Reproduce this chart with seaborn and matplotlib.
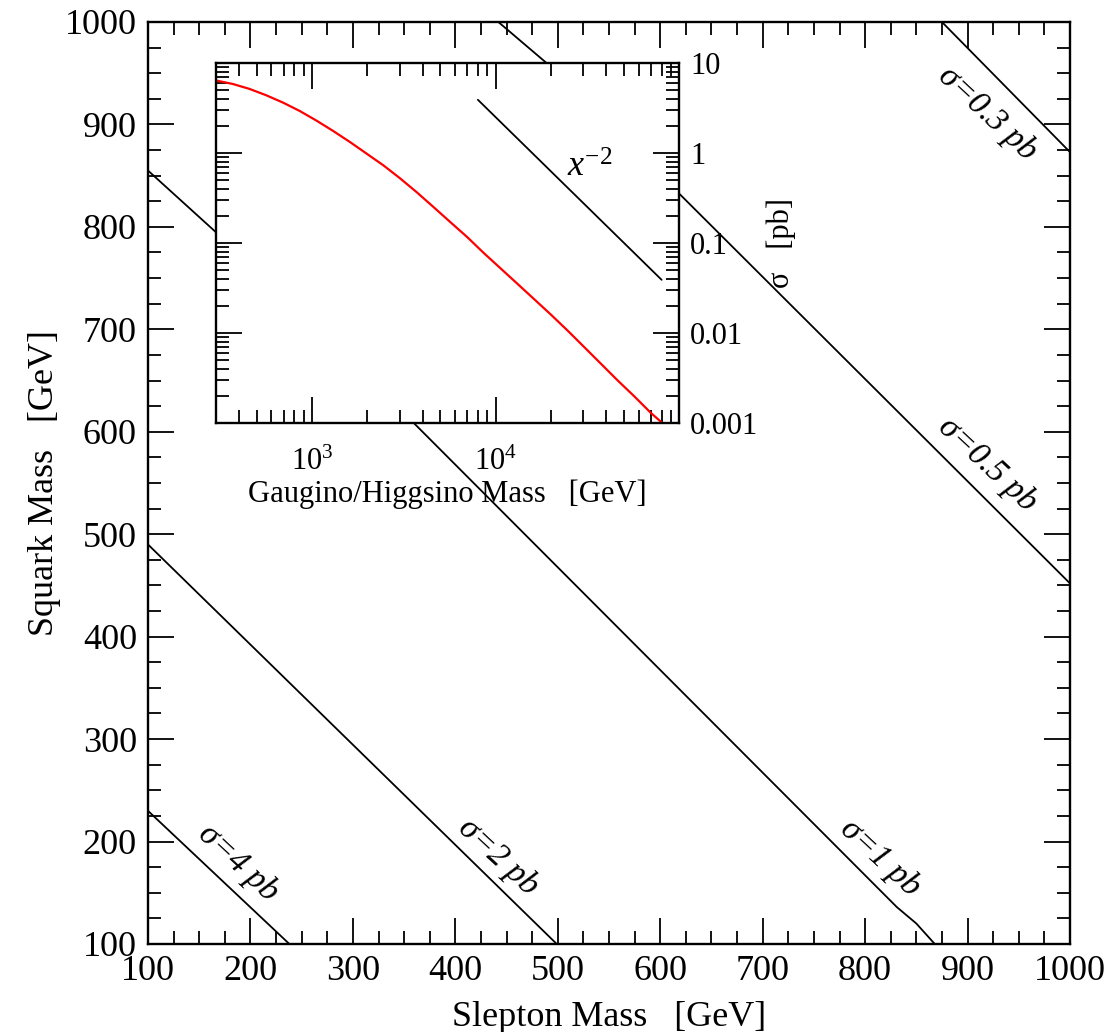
"""Squark vs slepton mass cross-section contours with gaugino/higgsino inset."""

import numpy as np
import pandas as pd
import matplotlib
matplotlib.use("Agg")
import matplotlib.pyplot as plt
import matplotlib.ticker as mticker
import seaborn as sns

# Contour lines (slepton mass, squark mass) in GeV
sigma_labels = ["\u03c3=4 pb", "\u03c3=2 pb", "\u03c3=1 pb", "\u03c3=0.5 pb", "\u03c3=0.3 pb"]
line_4pb_x = [100, 238]
line_4pb_y = [230, 100]
line_2pb_x = [100, 499]
line_2pb_y = [490, 100]
line_1pb_x = [100, 165, 359, 831, 850, 868]
line_1pb_y = [855, 796, 609, 136, 120, 100]
line_05pb_x = [442, 489, 618, 1000]
line_05pb_y = [1000, 960, 833, 452]
line_03pb_x = [875, 1000]
line_03pb_y = [1000, 873]

# Label centres for each contour
label_x = [188, 442, 815, 919, 919]
label_y = [179, 185, 184, 568, 911]

# Inset: cross section (pb) vs gaugino/higgsino mass (GeV)
inset_mass = [297, 370, 457, 563, 695, 857, 1057, 1303, 1607, 1982, 2444, 3015, 3718,
              4584, 5655, 6973, 8602, 10610, 13090, 16140, 19910, 24550, 30270, 37330,
              46040, 56780, 70040, 79430]
inset_sigma = [6.42, 5.85, 5.15, 4.38, 3.63, 2.93, 2.29, 1.757, 1.326, 0.984, 0.730,
               0.523, 0.366, 0.251, 0.171, 0.117, 0.0775, 0.0524, 0.0354, 0.0239,
               0.0161, 0.0107, 0.0070, 0.00457, 0.00298, 0.00198, 0.00129, 0.00103]
slope_x = [8000, 80000]
slope_y = [3.9, 0.039]

main_ticks = [100, 200, 300, 400, 500, 600, 700, 800, 900, 1000]
inset_xticks = [1e3, 1e4]
inset_xticklabels = [r"$\mathregular{10^{3}}$", r"$\mathregular{10^{4}}$"]
inset_yticks = [10, 1, 0.1, 0.01, 0.001]
inset_yticklabels = ["10", "1", "0.1", "0.01", "0.001"]

sns.set_style("ticks")
plt.rcParams["font.family"] = ["Liberation Serif", "DejaVu Serif"]
plt.rcParams["mathtext.fontset"] = "custom"
plt.rcParams["mathtext.rm"] = "Liberation Serif"
plt.rcParams["mathtext.it"] = "Liberation Serif:italic"
plt.rcParams["text.color"] = "black"
plt.rcParams["axes.labelcolor"] = "black"

fig = plt.figure(figsize=(11.1, 10.32), dpi=100)
ax = fig.add_axes([148 / 1110, 88 / 1032, 922 / 1110, 922 / 1032])

lines = [(line_4pb_x, line_4pb_y), (line_2pb_x, line_2pb_y), (line_1pb_x, line_1pb_y),
         (line_05pb_x, line_05pb_y), (line_03pb_x, line_03pb_y)]
for xs, ys in lines:
    df = pd.DataFrame({"x": xs, "y": ys})
    sns.lineplot(data=df, x="x", y="y", ax=ax, color="black", linewidth=1.3,
                 sort=False, estimator=None)

for lab, lx, ly in zip(sigma_labels, label_x, label_y):
    ax.text(lx, ly, lab, fontsize=24, style="italic", rotation=-43,
            rotation_mode="anchor", ha="center", va="center")

ax.set_xlim(100, 1000)
ax.set_ylim(100, 1000)
ax.set_xticks(main_ticks)
ax.set_yticks(main_ticks)
ax.xaxis.set_minor_locator(mticker.MultipleLocator(25))
ax.yaxis.set_minor_locator(mticker.MultipleLocator(25))
ax.tick_params(which="both", direction="in", top=True, right=True, width=1.3,
               labelsize=26, colors="black")
ax.tick_params(which="major", length=18.5, pad=8)
ax.tick_params(which="minor", length=9.3)
for sp in ax.spines.values():
    sp.set_linewidth(1.7)
    sp.set_color("black")
ax.set_xlabel("Slepton Mass   [GeV]", fontsize=26, labelpad=9)
ax.set_ylabel("Squark Mass   [GeV]", fontsize=26, labelpad=3)

# Inset axes
ax_in = fig.add_axes([216 / 1110, 609 / 1032, 463 / 1110, 360 / 1032])
ax_in.set_facecolor("white")
sns.lineplot(x=inset_mass, y=inset_sigma, ax=ax_in, color="red", linewidth=1.6,
             sort=False, estimator=None)
sns.lineplot(x=slope_x, y=slope_y, ax=ax_in, color="black", linewidth=1.3,
             sort=False, estimator=None)
ax_in.set_xscale("log")
ax_in.set_yscale("log")
ax_in.set_xlim(300, 99500)
ax_in.set_ylim(0.001, 10)
ax_in.set_xticks(inset_xticks)
ax_in.set_xticklabels(inset_xticklabels)
ax_in.set_yticks(inset_yticks)
ax_in.set_yticklabels(inset_yticklabels)
ax_in.xaxis.set_minor_locator(mticker.LogLocator(base=10, subs=np.arange(2, 10)))
ax_in.yaxis.set_minor_locator(mticker.LogLocator(base=10, subs=np.arange(2, 10)))
ax_in.xaxis.set_minor_formatter(mticker.NullFormatter())
ax_in.yaxis.set_minor_formatter(mticker.NullFormatter())
ax_in.tick_params(which="both", direction="in", top=True, right=True, left=True,
                  labelleft=False, labelright=True, width=1.3, labelsize=22,
                  colors="black")
ax_in.tick_params(which="major", length=18.5, pad=8)
ax_in.tick_params(axis="x", which="major", pad=18)
ax_in.tick_params(which="minor", length=9.3)
for sp in ax_in.spines.values():
    sp.set_linewidth(1.7)
    sp.set_color("black")
ax_in.set_xlabel("Gaugino/Higgsino Mass   [GeV]", fontsize=22, labelpad=2)
ax_in.yaxis.set_label_position("right")
ax_in.set_ylabel("\u03c3   [pb]", fontsize=22, labelpad=6)
ax_in.text(24500, 0.54, r"$\mathit{x}^{\mathregular{-2}}$", fontsize=26,
           ha="left", va="baseline")

fig.savefig("out.png", dpi=100, facecolor="white")
